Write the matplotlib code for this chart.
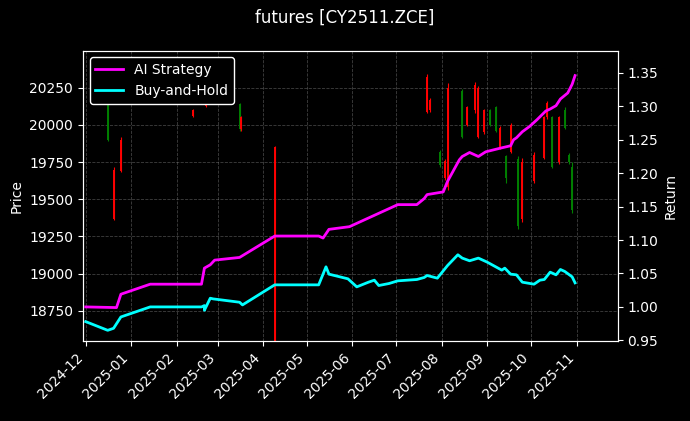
import pandas as pd
import matplotlib
matplotlib.use("Agg")
import matplotlib.pyplot as plt
import matplotlib.dates as mdates

plt.style.use("dark_background")

# candles: date, open, high, low, close
candle_dates = ["2024-12-16", "2024-12-20", "2024-12-25", "2025-02-12", "2025-02-21",
                "2025-03-16", "2025-03-17", "2025-04-09", "2025-07-22", "2025-07-24",
                "2025-07-31", "2025-08-03", "2025-08-05", "2025-08-15", "2025-08-18",
                "2025-08-24", "2025-08-26", "2025-08-30", "2025-09-03", "2025-09-07",
                "2025-09-10", "2025-09-14", "2025-09-17", "2025-09-22", "2025-09-25",
                "2025-10-03", "2025-10-10", "2025-10-12", "2025-10-15", "2025-10-20",
                "2025-10-24", "2025-10-27", "2025-10-29"]
c_open = [19900, 19700, 19900, 20100, 20190, 19970, 20050, 19850, 20320, 20170,
          19730, 19760, 20250, 19920, 20120, 20270, 20250, 20100, 20000, 19960,
          19980, 19640, 20000, 19320, 19750, 19800, 20050, 20150, 19720, 20050,
          19980, 19750, 19430]
c_close = [20440, 19370, 19690, 20060, 20130, 20140, 19970, 18550, 20090, 20100,
           19820, 19640, 19580, 20230, 20000, 20100, 19920, 19950, 20100, 20120,
           19850, 19790, 19820, 19770, 19370, 19620, 19780, 20050, 20050, 19750,
           20100, 19800, 19720]
c_high = [20450, 19720, 19920, 20110, 20200, 20150, 20060, 19860, 20340, 20180,
          19830, 19770, 20280, 20240, 20130, 20290, 20260, 20110, 20110, 20130,
          19990, 19800, 20010, 19790, 19780, 19820, 20060, 20160, 20060, 20060,
          20120, 19810, 19750]
c_low = [19890, 19360, 19680, 20050, 20120, 19960, 19960, 18540, 20080, 20090,
         19720, 19630, 19560, 19910, 19990, 20080, 19910, 19940, 19990, 19950,
         19840, 19610, 19810, 19300, 19350, 19610, 19770, 20040, 19710, 19740,
         19970, 19740, 19410]

ai_dates = ["2024-12-01", "2024-12-22", "2024-12-25", "2025-01-14", "2025-02-18",
            "2025-02-20", "2025-02-24", "2025-02-27", "2025-03-16", "2025-04-09",
            "2025-05-09", "2025-05-12", "2025-05-16", "2025-05-30", "2025-06-12",
            "2025-07-02", "2025-07-15", "2025-07-20", "2025-07-22", "2025-08-02",
            "2025-08-05", "2025-08-13", "2025-08-15", "2025-08-20", "2025-08-26",
            "2025-08-31", "2025-09-11", "2025-09-17", "2025-09-19", "2025-09-21",
            "2025-09-25", "2025-09-30", "2025-10-05", "2025-10-11", "2025-10-14",
            "2025-10-18", "2025-10-21", "2025-10-26", "2025-10-29", "2025-10-31"]
ai_ret = [1.000, 0.999, 1.019, 1.034, 1.034, 1.058, 1.063, 1.070, 1.074, 1.106,
          1.106, 1.103, 1.116, 1.120, 1.133, 1.153, 1.153, 1.162, 1.168, 1.172,
          1.188, 1.220, 1.225, 1.231, 1.225, 1.232, 1.238, 1.241, 1.250, 1.253,
          1.262, 1.270, 1.280, 1.293, 1.296, 1.301, 1.311, 1.320, 1.333, 1.346]

bh_dates = ["2024-12-01", "2024-12-16", "2024-12-20", "2024-12-25", "2025-01-14",
            "2025-02-18", "2025-02-20", "2025-02-20", "2025-02-24", "2025-02-26",
            "2025-03-16", "2025-03-18", "2025-04-09", "2025-05-09", "2025-05-14",
            "2025-05-16", "2025-05-29", "2025-06-04", "2025-06-12", "2025-06-16",
            "2025-06-19", "2025-06-26", "2025-07-02", "2025-07-15", "2025-07-20",
            "2025-07-22", "2025-07-29", "2025-08-05", "2025-08-12", "2025-08-15",
            "2025-08-20", "2025-08-26", "2025-09-01", "2025-09-11", "2025-09-13",
            "2025-09-17", "2025-09-21", "2025-09-25", "2025-10-03", "2025-10-07",
            "2025-10-10", "2025-10-14", "2025-10-18", "2025-10-21", "2025-10-24",
            "2025-10-29", "2025-10-31"]
bh_ret = [0.978, 0.965, 0.968, 0.985, 1.000, 1.000, 1.002, 0.995, 1.013, 1.012,
          1.007, 1.003, 1.033, 1.033, 1.060, 1.049, 1.042, 1.030, 1.037, 1.040,
          1.032, 1.035, 1.039, 1.041, 1.044, 1.047, 1.043, 1.062, 1.078, 1.073,
          1.069, 1.073, 1.067, 1.055, 1.058, 1.049, 1.048, 1.037, 1.034, 1.040,
          1.041, 1.052, 1.048, 1.056, 1.053, 1.045, 1.036]

fig, ax = plt.subplots(figsize=(6.9, 4.21), dpi=100)
fig.patch.set_facecolor("black")
ax.set_facecolor("black")

cd = pd.to_datetime(candle_dates)
for d, o, h, l, c in zip(cd, c_open, c_high, c_low, c_close):
    col = "green" if c >= o else "red"
    ax.vlines(d, l, h, color=col, linewidth=0.8)
    ax.vlines(d, min(o, c), max(o, c), color=col, linewidth=1.4)

ax.set_ylabel("Price")
ax.set_ylim(18547, 20500)
ax.set_yticks([18750, 19000, 19250, 19500, 19750, 20000, 20250])
ax.grid(True, linestyle="--", color="grey", alpha=0.5, linewidth=0.6)

ax2 = ax.twinx()
ax2.plot(pd.to_datetime(ai_dates), ai_ret, color="magenta", linewidth=2, label="AI Strategy")
ax2.plot(pd.to_datetime(bh_dates), bh_ret, color="cyan", linewidth=2, label="Buy-and-Hold")
ax2.set_ylim(0.949, 1.3835)
ax2.set_ylabel("Return")
ax2.legend(loc="upper left", facecolor="black", edgecolor="white", framealpha=1)

ax.set_xlim(pd.Timestamp("2024-11-29"), pd.Timestamp("2025-11-29"))
ax.xaxis.set_major_locator(mdates.MonthLocator())
ax.xaxis.set_major_formatter(mdates.DateFormatter("%Y-%m"))
plt.setp(ax.get_xticklabels(), rotation=45, ha="right")

fig.suptitle("futures [CY2511.ZCE]")
fig.subplots_adjust(left=0.12, right=0.895, top=0.88, bottom=0.19)
fig.savefig("out.png", dpi=100, facecolor="black")
